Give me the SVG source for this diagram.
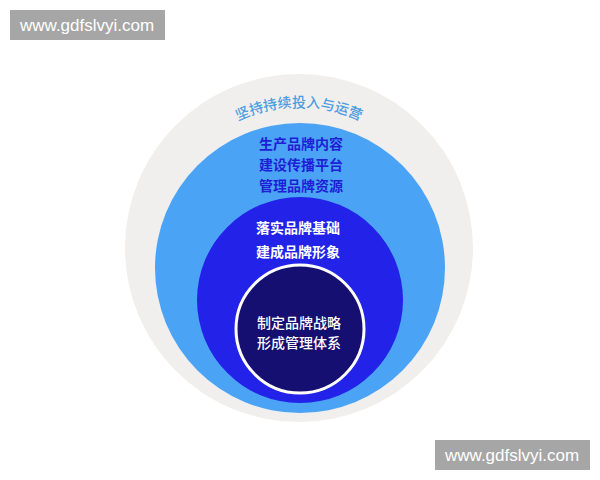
<svg xmlns="http://www.w3.org/2000/svg" width="600" height="480" viewBox="0 0 600 480">
<style>
.cjk{font-family:"Noto Sans CJK SC","Noto Sans",sans-serif;font-size:14px;text-anchor:middle}
.wm{font-family:"Liberation Sans",Arial,sans-serif;font-size:17px;fill:#ffffff}
</style>
<defs>
<path id="arc" d="M 158 248 A 141 141 0 0 1 440 248"/>
</defs>
<rect width="600" height="480" fill="#ffffff"/>
<g id="outer">
<circle cx="299" cy="248" r="174" fill="#f1efed"/>
<text class="cjk" fill="#4b9ce2" font-weight="500"><textPath href="#arc" startOffset="50%">坚持持续投入与运营</textPath></text>
</g>
<g id="ring2">
<circle cx="300" cy="268" r="145" fill="#4ba3f6"/>
<text class="cjk" fill="#1e1ed6" font-weight="700" x="301" y="149">生产品牌内容</text>
<text class="cjk" fill="#1e1ed6" font-weight="700" x="301" y="170">建设传播平台</text>
<text class="cjk" fill="#1e1ed6" font-weight="700" x="301" y="191">管理品牌资源</text>
</g>
<g id="ring3">
<circle cx="300" cy="300" r="103" fill="#2222e8"/>
<text class="cjk" fill="#ffffff" font-weight="700" x="298" y="233">落实品牌基础</text>
<text class="cjk" fill="#ffffff" font-weight="700" x="298" y="257">建成品牌形象</text>
</g>
<g id="core">
<circle cx="300" cy="329" r="64" fill="#140f70" stroke="#ffffff" stroke-width="3"/>
<text class="cjk" fill="#ffffff" font-weight="500" x="299" y="328">制定品牌战略</text>
<text class="cjk" fill="#ffffff" font-weight="500" x="299" y="348">形成管理体系</text>
</g>
<g id="watermark1">
<rect x="10" y="10" width="155" height="30" fill="#a6a6a6"/>
<text class="wm" x="20" y="31">www.gdfslvyi.com</text>
</g>
<g id="watermark2">
<rect x="435" y="440" width="155" height="30" fill="#a6a6a6"/>
<text class="wm" x="445" y="461">www.gdfslvyi.com</text>
</g>
</svg>
